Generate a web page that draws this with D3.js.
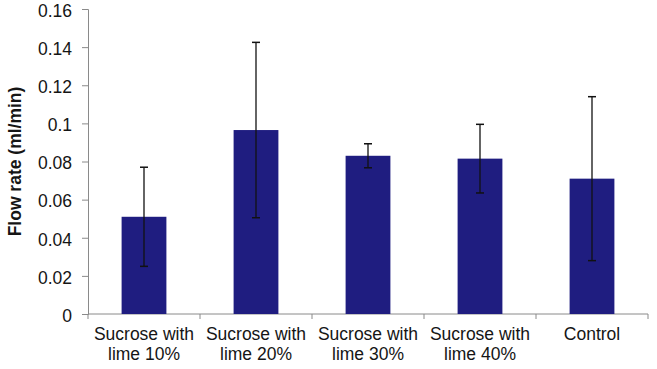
<!DOCTYPE html>
<html>
<head>
<meta charset="utf-8">
<script src="https://cdn.jsdelivr.net/npm/d3@7"></script>
<style>
  body { margin: 0; background: #fff; }
  svg text { font-family: "Liberation Sans", Arial, sans-serif; fill: #151515; }
</style>
</head>
<body>
<svg id="chart" width="657" height="369"></svg>
<script>
// data
const categories = ["Sucrose with\nlime 10%", "Sucrose with\nlime 20%", "Sucrose with\nlime 30%", "Sucrose with\nlime 40%", "Control"];
const flowRates = [0.051, 0.0965, 0.083, 0.0815, 0.071];
const errors = [0.026, 0.046, 0.0063, 0.018, 0.043];
const yTicks = [0, 0.02, 0.04, 0.06, 0.08, 0.1, 0.12, 0.14, 0.16];

const data = categories.map((c, i) => ({ cat: c, val: flowRates[i], err: errors[i] }));

const svg = d3.select("#chart"),
      margin = {top: 9, right: 9, bottom: 55, left: 88},
      width = +svg.attr("width") - margin.left - margin.right,
      height = +svg.attr("height") - margin.top - margin.bottom;

const g = svg.append("g").attr("transform", `translate(${margin.left},${margin.top})`);

// scales
const x = d3.scaleBand()
  .domain(categories)
  .range([0, width])
  .paddingInner(0.6)
  .paddingOuter(0.3);

const y = d3.scaleLinear().domain([0, 0.16]).range([height, 0]);

const axisColor = "#8a8a8a";

// y axis
const yAxis = g.append("g")
  .call(d3.axisLeft(y).tickValues(yTicks).tickSize(6).tickPadding(10).tickFormat(d => d3.format("")(+d.toFixed(2))));
yAxis.select(".domain").attr("stroke", axisColor);
yAxis.selectAll(".tick line").attr("stroke", axisColor);
yAxis.selectAll("text")
  .attr("dy", "0.42em")
  .style("font-size", "17.5px")
  .style("font-family", "'Liberation Sans', Arial, sans-serif")
  .attr("fill", "#151515");

// x axis: line plus ticks at category boundaries
g.append("line")
  .attr("x1", 0).attr("x2", width)
  .attr("y1", height).attr("y2", height)
  .attr("stroke", axisColor);

const step = x.step();
const bounds = categories.map(c => x(c) - step * 0.3).concat([width]);
g.selectAll("line.xtick")
  .data(bounds)
  .enter().append("line")
    .attr("class", "xtick")
    .attr("x1", d => d).attr("x2", d => d)
    .attr("y1", height).attr("y2", height + 5)
    .attr("stroke", axisColor);

// category labels
const lbl = g.selectAll("text.cat")
  .data(data)
  .enter().append("text")
    .attr("class", "cat")
    .attr("text-anchor", "middle")
    .attr("transform", d => `translate(${x(d.cat) + x.bandwidth() / 2},${height + 26})`)
    .style("font-size", "17.5px");
lbl.selectAll("tspan")
  .data(d => d.cat.split("\n"))
  .enter().append("tspan")
    .attr("x", 0)
    .attr("dy", (d, i) => i === 0 ? 0 : 20)
    .text(d => d);

// bars
g.selectAll("rect.bar")
  .data(data)
  .enter().append("rect")
    .attr("class", "bar")
    .attr("x", d => x(d.cat))
    .attr("y", d => y(d.val))
    .attr("width", x.bandwidth())
    .attr("height", d => y(0) - y(d.val))
    .attr("fill", "#1f1d80");

// error bars
const eb = g.selectAll("g.err")
  .data(data)
  .enter().append("g")
    .attr("class", "err")
    .attr("transform", d => `translate(${x(d.cat) + x.bandwidth() / 2},0)`);
eb.append("line")
  .attr("y1", d => y(d.val + d.err))
  .attr("y2", d => y(d.val - d.err))
  .attr("stroke", "#111").attr("stroke-width", 1.3);
eb.append("line")
  .attr("x1", -4).attr("x2", 4)
  .attr("y1", d => y(d.val + d.err)).attr("y2", d => y(d.val + d.err))
  .attr("stroke", "#111").attr("stroke-width", 1.5);
eb.append("line")
  .attr("x1", -4).attr("x2", 4)
  .attr("y1", d => y(d.val - d.err)).attr("y2", d => y(d.val - d.err))
  .attr("stroke", "#111").attr("stroke-width", 1.5);

// y axis title
svg.append("text")
  .attr("transform", `translate(21,${margin.top + height / 2}) rotate(-90)`)
  .attr("text-anchor", "middle")
  .style("font-size", "17.5px")
  .style("font-weight", "bold")
  .text("Flow rate (ml/min)");
</script>
</body>
</html>
